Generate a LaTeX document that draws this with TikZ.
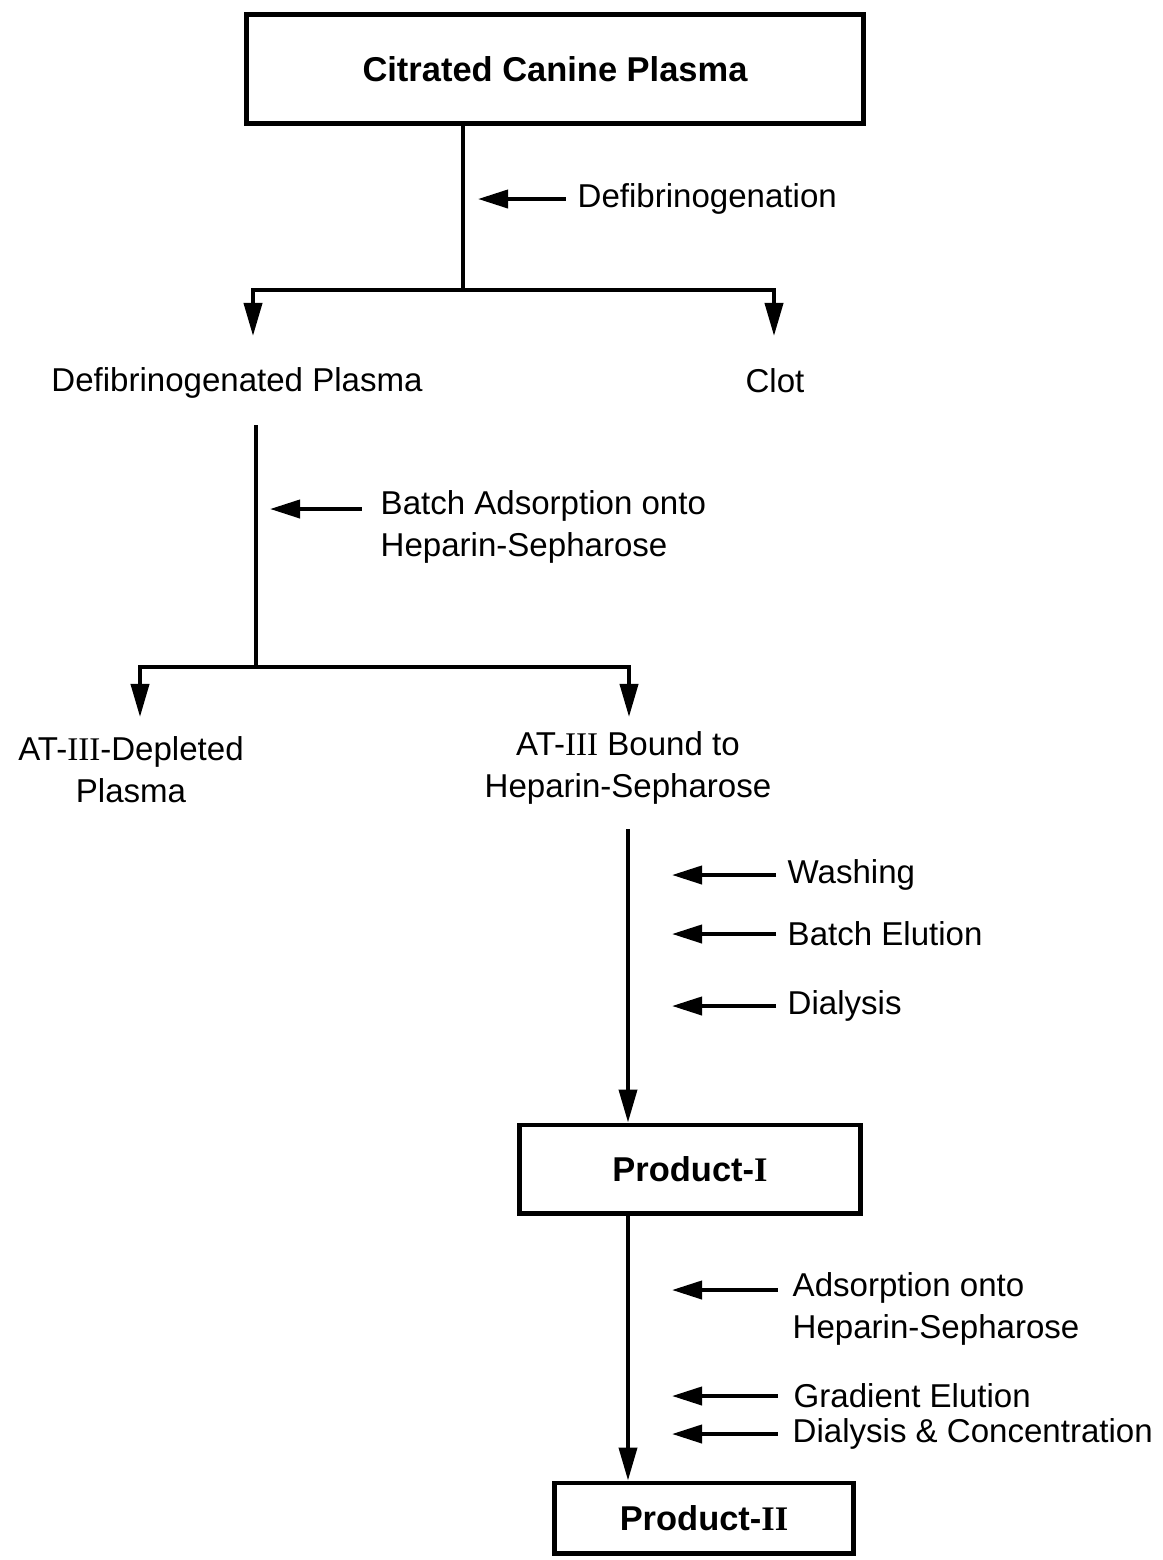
\documentclass[tikz,border=0pt]{standalone}
\usepackage{fontspec}
\setmainfont{Liberation Sans}
\newfontfamily\numfont{Liberation Serif}
\usetikzlibrary{arrows.meta}
\newcommand{\rn}[1]{{\numfont #1}}

\begin{document}
\begin{tikzpicture}[x=0.01cm, y=-0.01cm,
  box/.style={draw, line width=1.4pt, font=\fontsize{9.8}{12}\selectfont\bfseries, inner sep=0pt},
  lab/.style={font=\fontsize{9.4}{12}\selectfont, align=center, inner sep=0pt},
  note/.style={lab, align=left, anchor=west},
  line/.style={line width=1.1pt},
  arr/.style={line, -{Triangle[length=3.3mm, width=1.8mm]}},
  larr/.style={line, shorten <=1.1mm, -{Triangle[length=3mm, width=1.8mm]}}]
\useasboundingbox (0,0) rectangle (1162,1560);
% boxes and products
\node[box, minimum width=6.16cm, minimum height=1.09cm] (ccp) at (555,69) {Citrated Canine Plasma};
\node[lab] (defp) at (237,383) {Defibrinogenated Plasma};
\node[lab] (clot) at (775,381) {Clot};
\node[lab] (dep) at (131,770) {AT-\rn{III}-Depleted\\Plasma};
\node[lab] (bnd) at (628,768) {AT-\rn{III} Bound to\\Heparin-Sepharose};
\node[box, minimum width=3.4cm, minimum height=0.88cm] (p1) at (690,1169) {Product-\rn{I}};
\node[box, minimum width=2.98cm, minimum height=0.70cm] (p2) at (704,1518) {Product-\rn{II}};
% junctions and arrow ends
\coordinate (j1) at (463,290);
\coordinate (e1) at (253,336);
\coordinate (e2) at (774,336);
\coordinate (j2) at (256,667);
\coordinate (e3) at (140,717);
\coordinate (e4) at (629,717);
% step labels
\node[note] (defn) at (577,199) {Defibrinogenation};
\node[note, anchor=north west] (bads) at (380,490) {Batch Adsorption onto\\Heparin-Sepharose};
\node[note] (wash) at (787,875) {Washing};
\node[note] (belu) at (787,934) {Batch Elution};
\node[note] (dial) at (787,1006) {Dialysis};
\node[note, anchor=north west] (ads) at (792,1272) {Adsorption onto\\Heparin-Sepharose};
\node[note] (gelu) at (793,1396) {Gradient Elution};
\node[note] (dcon) at (792,1434) {Dialysis \& Concentration};
\coordinate (h1) at (478,196);
\coordinate (h2) at (270,509);
\coordinate (h3) at (672,1290);
% flow
\draw[line] (ccp.south -| j1) -- (j1);
\draw[arr] (j1) -| (e1);
\draw[arr] (j1) -| (e2);
\draw[line, shorten <=2.6mm] (defp.south -| j2) -- (j2);
\draw[arr] (j2) -| (e3);
\draw[arr] (j2) -| (e4);
\draw[arr, shorten <=2.4mm] (bnd.south) -- (bnd.south |- p1.north);
\draw[arr] (bnd.south |- p1.south) -- (bnd.south |- p2.north);
% pointers
\draw[larr] (defn.west) -- (defn.west -| h1);
\draw[larr, shorten <=1.8mm] (bads.west |- h2) -- (h2);
\draw[larr] (wash.west) -- ++(-115,0);
\draw[larr] (belu.west) -- ++(-115,0);
\draw[larr] (dial.west) -- ++(-115,0);
\draw[larr, shorten <=1.4mm] (ads.west |- h3) -- (h3);
\draw[larr, shorten <=1.5mm] (gelu.west) -- ++(-121,0);
\draw[larr, shorten <=1.4mm] (dcon.west) -- ++(-120,0);
\end{tikzpicture}
\end{document}
